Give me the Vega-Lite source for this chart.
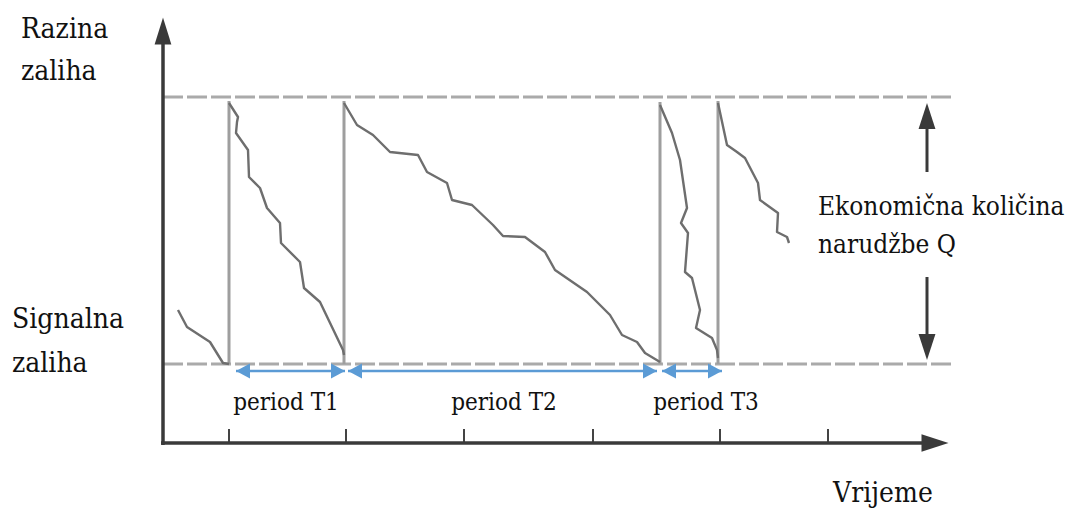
{
  "$schema": "https://vega.github.io/schema/vega-lite/v6.json",
  "width": 1070,
  "height": 508,
  "padding": 0,
  "autosize": {"type": "none"},
  "background": "white",
  "config": {"view": {"stroke": null}},
  "resolve": {"scale": {"shape": "independent"}},
  "datasets": {
    "dashes": [
      {"level": "Q", "t": 0, "t2": 789, "q": 346},
      {"level": "signal", "t": 0, "t2": 789, "q": 79}
    ],
    "verticals": [
      {"t": 66, "q": 79, "q2": 342},
      {"t": 181, "q": 79, "q2": 342},
      {"t": 497, "q": 79, "q2": 341},
      {"t": 555, "q": 79, "q2": 342}
    ],
    "curves": [
      {"seg": 0, "i": 0, "t": 15, "q": 133},
      {"seg": 0, "i": 1, "t": 24, "q": 116},
      {"seg": 0, "i": 2, "t": 47, "q": 101},
      {"seg": 0, "i": 3, "t": 60, "q": 80},
      {"seg": 0, "i": 4, "t": 66, "q": 79},
      {"seg": 1, "i": 0, "t": 66, "q": 340},
      {"seg": 1, "i": 1, "t": 75, "q": 326},
      {"seg": 1, "i": 2, "t": 74, "q": 321},
      {"seg": 1, "i": 3, "t": 73, "q": 310},
      {"seg": 1, "i": 4, "t": 85, "q": 293},
      {"seg": 1, "i": 5, "t": 86, "q": 266},
      {"seg": 1, "i": 6, "t": 97, "q": 255},
      {"seg": 1, "i": 7, "t": 104, "q": 235},
      {"seg": 1, "i": 8, "t": 117, "q": 220},
      {"seg": 1, "i": 9, "t": 118, "q": 200},
      {"seg": 1, "i": 10, "t": 137, "q": 181},
      {"seg": 1, "i": 11, "t": 141, "q": 155},
      {"seg": 1, "i": 12, "t": 157, "q": 141},
      {"seg": 1, "i": 13, "t": 180, "q": 93},
      {"seg": 1, "i": 14, "t": 181, "q": 88},
      {"seg": 2, "i": 0, "t": 181, "q": 340},
      {"seg": 2, "i": 1, "t": 194, "q": 318},
      {"seg": 2, "i": 2, "t": 210, "q": 308},
      {"seg": 2, "i": 3, "t": 227, "q": 291},
      {"seg": 2, "i": 4, "t": 255, "q": 288},
      {"seg": 2, "i": 5, "t": 264, "q": 271},
      {"seg": 2, "i": 6, "t": 284, "q": 260},
      {"seg": 2, "i": 7, "t": 289, "q": 243},
      {"seg": 2, "i": 8, "t": 309, "q": 238},
      {"seg": 2, "i": 9, "t": 330, "q": 218},
      {"seg": 2, "i": 10, "t": 340, "q": 207},
      {"seg": 2, "i": 11, "t": 362, "q": 206},
      {"seg": 2, "i": 12, "t": 382, "q": 191},
      {"seg": 2, "i": 13, "t": 392, "q": 173},
      {"seg": 2, "i": 14, "t": 424, "q": 151},
      {"seg": 2, "i": 15, "t": 447, "q": 128},
      {"seg": 2, "i": 16, "t": 459, "q": 108},
      {"seg": 2, "i": 17, "t": 474, "q": 101},
      {"seg": 2, "i": 18, "t": 482, "q": 90},
      {"seg": 2, "i": 19, "t": 497, "q": 81},
      {"seg": 3, "i": 0, "t": 497, "q": 338},
      {"seg": 3, "i": 1, "t": 509, "q": 310},
      {"seg": 3, "i": 2, "t": 517, "q": 283},
      {"seg": 3, "i": 3, "t": 524, "q": 235},
      {"seg": 3, "i": 4, "t": 518, "q": 220},
      {"seg": 3, "i": 5, "t": 525, "q": 210},
      {"seg": 3, "i": 6, "t": 522, "q": 171},
      {"seg": 3, "i": 7, "t": 529, "q": 165},
      {"seg": 3, "i": 8, "t": 537, "q": 133},
      {"seg": 3, "i": 9, "t": 533, "q": 115},
      {"seg": 3, "i": 10, "t": 549, "q": 105},
      {"seg": 3, "i": 11, "t": 554, "q": 93},
      {"seg": 3, "i": 12, "t": 555, "q": 85},
      {"seg": 4, "i": 0, "t": 555, "q": 340},
      {"seg": 4, "i": 1, "t": 564, "q": 298},
      {"seg": 4, "i": 2, "t": 574, "q": 291},
      {"seg": 4, "i": 3, "t": 582, "q": 285},
      {"seg": 4, "i": 4, "t": 595, "q": 260},
      {"seg": 4, "i": 5, "t": 597, "q": 243},
      {"seg": 4, "i": 6, "t": 615, "q": 230},
      {"seg": 4, "i": 7, "t": 614, "q": 211},
      {"seg": 4, "i": 8, "t": 624, "q": 206},
      {"seg": 4, "i": 9, "t": 626, "q": 200}
    ],
    "axes": [
      {"axis": "y", "t": 0, "t2": 0, "q": -2, "q2": 400},
      {"axis": "x", "t": -2, "t2": 765, "q": 0, "q2": 0}
    ],
    "ticks": [
      {"t": 66, "q": 0, "q2": 14},
      {"t": 183, "q": 0, "q2": 14},
      {"t": 301, "q": 0, "q2": 14},
      {"t": 430, "q": 0, "q2": 14},
      {"t": 557, "q": 0, "q2": 14},
      {"t": 665, "q": 0, "q2": 14}
    ],
    "axisHeads": [
      {"dir": "up", "t": 0, "q": 412},
      {"dir": "right", "t": 772, "q": 0}
    ],
    "qLines": [
      {"t": 764, "q": 271, "q2": 316},
      {"t": 764, "q": 166, "q2": 106}
    ],
    "qHeads": [
      {"dir": "up", "t": 764, "q": 327},
      {"dir": "down", "t": 764, "q": 96}
    ],
    "periods": [
      {"label": "period T1", "t": 73, "t2": 182, "q": 72, "mid": 123},
      {"label": "period T2", "t": 185, "t2": 494, "q": 72, "mid": 341},
      {"label": "period T3", "t": 499, "t2": 559, "q": 72, "mid": 543}
    ],
    "blueHeads": [
      {"dir": "left", "t": 80, "q": 72},
      {"dir": "right", "t": 175, "q": 72},
      {"dir": "left", "t": 192, "q": 72},
      {"dir": "right", "t": 487, "q": 72},
      {"dir": "left", "t": 506, "q": 72},
      {"dir": "right", "t": 552, "q": 72}
    ],
    "bigLabels": [
      {"label": "Razina", "t": -142, "q": 405},
      {"label": "zaliha", "t": -142, "q": 363},
      {"label": "Signalna", "t": -151, "q": 115},
      {"label": "zaliha", "t": -151, "q": 71},
      {"label": "Vrijeme", "t": 670, "q": -59}
    ],
    "qLabels": [
      {"label": "Ekonomična količina", "t": 655, "q": 228},
      {"label": "narudžbe Q", "t": 655, "q": 190}
    ]
  },
  "encoding": {
    "x": {"field": "t", "type": "quantitative", "scale": {"domain": [-163, 907], "nice": false, "zero": false}, "axis": null},
    "y": {"field": "q", "type": "quantitative", "scale": {"domain": [-65, 443], "nice": false, "zero": false}, "axis": null}
  },
  "layer": [
    {
      "data": {"name": "dashes"},
      "mark": {"type": "rule", "color": "#aaaaaa", "strokeWidth": 3, "strokeDash": [20, 4]},
      "encoding": {"x2": {"field": "t2"}}
    },
    {
      "data": {"name": "verticals"},
      "mark": {"type": "rule", "color": "#9e9e9e", "strokeWidth": 3},
      "encoding": {"y2": {"field": "q2"}}
    },
    {
      "data": {"name": "curves"},
      "mark": {"type": "line", "color": "#6e6e6e", "strokeWidth": 2.4, "strokeJoin": "round"},
      "encoding": {"detail": {"field": "seg"}, "order": {"field": "i", "type": "quantitative"}}
    },
    {
      "data": {"name": "ticks"},
      "mark": {"type": "rule", "color": "#444444", "strokeWidth": 2},
      "encoding": {"y2": {"field": "q2"}}
    },
    {
      "data": {"name": "axes"},
      "mark": {"type": "rule", "color": "#3a3a3a", "strokeWidth": 3.5},
      "encoding": {"x2": {"field": "t2"}, "y2": {"field": "q2"}}
    },
    {
      "data": {"name": "axisHeads"},
      "mark": {"type": "point", "filled": true, "color": "#3a3a3a", "opacity": 1, "size": 729, "strokeWidth": 0},
      "encoding": {
        "shape": {"field": "dir", "type": "nominal", "legend": null,
          "scale": {"domain": ["up", "right"], "range": ["M0,-1L0.62,1L-0.62,1Z", "M1,0L-1,0.64L-1,-0.64Z"]}}
      }
    },
    {
      "data": {"name": "qLines"},
      "mark": {"type": "rule", "color": "#3a3a3a", "strokeWidth": 3},
      "encoding": {"y2": {"field": "q2"}}
    },
    {
      "data": {"name": "qHeads"},
      "mark": {"type": "point", "filled": true, "color": "#3a3a3a", "opacity": 1, "size": 676, "strokeWidth": 0},
      "encoding": {
        "shape": {"field": "dir", "type": "nominal", "legend": null,
          "scale": {"domain": ["up", "down"], "range": ["M0,-1L0.65,1L-0.65,1Z", "M0,1L0.65,-1L-0.65,-1Z"]}}
      }
    },
    {
      "data": {"name": "periods"},
      "mark": {"type": "rule", "color": "#5b9bd5", "strokeWidth": 2.5},
      "encoding": {"x2": {"field": "t2"}}
    },
    {
      "data": {"name": "blueHeads"},
      "mark": {"type": "point", "filled": true, "color": "#5b9bd5", "opacity": 1, "size": 196, "strokeWidth": 0},
      "encoding": {
        "shape": {"field": "dir", "type": "nominal", "legend": null,
          "scale": {"domain": ["left", "right"], "range": ["M-1,0L1,-1.07L1,1.07Z", "M1,0L-1,-1.07L-1,1.07Z"]}}
      }
    },
    {
      "data": {"name": "periods"},
      "mark": {"type": "text", "font": "DejaVu Serif Condensed", "fontSize": 24, "align": "center", "baseline": "alphabetic", "color": "#111111"},
      "encoding": {
        "x": {"field": "mid", "type": "quantitative"},
        "y": {"datum": 33, "type": "quantitative"},
        "text": {"field": "label"}
      }
    },
    {
      "data": {"name": "bigLabels"},
      "mark": {"type": "text", "font": "DejaVu Serif Condensed", "fontSize": 28, "align": "left", "baseline": "alphabetic", "color": "#111111"},
      "encoding": {"text": {"field": "label"}}
    },
    {
      "data": {"name": "qLabels"},
      "mark": {"type": "text", "font": "DejaVu Serif Condensed", "fontSize": 26, "align": "left", "baseline": "alphabetic", "color": "#111111"},
      "encoding": {"text": {"field": "label"}}
    }
  ]
}
